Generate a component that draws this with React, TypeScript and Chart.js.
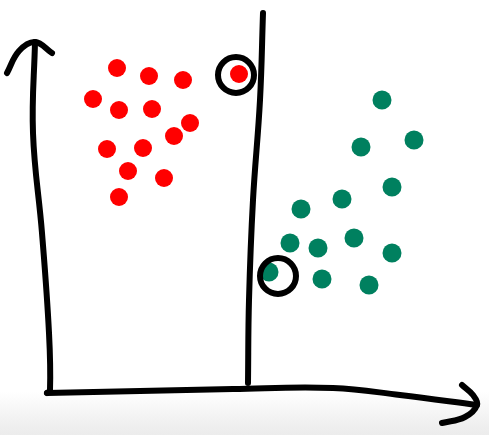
import React, { useEffect, useRef } from "react";
import Chart from "chart.js/auto";

// feature space (origin = corner of the drawn axes)
const redX = [7.0, 10.2, 13.6, 19.2, 4.6, 7.2, 10.5, 14.3, 12.7, 6.0, 9.6, 8.1, 11.7, 7.2];
const redY = [32.5, 31.7, 31.3, 31.9, 29.4, 28.3, 28.4, 27.0, 25.7, 24.4, 24.5, 22.2, 21.5, 19.6];
const greenX = [33.5, 31.4, 36.7, 34.5, 25.4, 29.5, 24.3, 27.1, 30.7, 34.5, 22.2, 27.5, 32.2];
const greenY = [29.3, 24.6, 25.3, 20.6, 18.4, 19.4, 15.0, 14.5, 15.5, 14.0, 12.1, 11.4, 10.8];

// circled support vectors
const supportX = [18.9, 23.1];
const supportY = [31.8, 11.7];

// hand-drawn decision boundary
const boundaryX = [21.6, 21.3, 20.6, 20.2, 20.1];
const boundaryY = [38.0, 29.3, 19.3, 9.3, 1.0];

// hand-drawn axes with arrow heads
const yAxisX = [0, 0.3, 0.2, -0.5, -1.4, -1.2];
const yAxisY = [0, 0.3, 6.0, 16.0, 26.0, 35.1];
const yArrowX = [-4.0, -2.8, -1.2, 0.5];
const yArrowY = [32.0, 34.2, 35.1, 34.0];
const xAxisX = [0, 18.6, 28.6, 35.3, 43.0];
const xAxisY = [0, 0.4, 0.5, -0.2, -1.2];
const xArrowX = [41.5, 42.6, 43.0, 41.8, 39.5];
const xArrowY = [0.8, -0.2, -1.2, -2.4, -3.0];

const toPoints = (xs: number[], ys: number[]) => xs.map((x, i) => ({ x, y: ys[i] }));

const ink = "#000000";

const stroke = (xs: number[], ys: number[], tension = 0.4) => ({
  type: "line" as const,
  data: toPoints(xs, ys),
  borderColor: ink,
  borderWidth: 6,
  borderCapStyle: "round" as const,
  borderJoinStyle: "round" as const,
  pointRadius: 0,
  tension,
  fill: false,
  clip: false as any,
  order: 3,
});

const App = () => {
  const chartRef = useRef<HTMLCanvasElement>(null);
  const chartInstance = useRef<any>(null);

  useEffect(() => {
    document.body.style.margin = "0";
    if (!chartRef.current) return;
    if (chartInstance.current) chartInstance.current.destroy();

    chartInstance.current = new Chart(chartRef.current, {
      type: "scatter",
      data: {
        datasets: [
          stroke(yAxisX, yAxisY),
          stroke(yArrowX, yArrowY),
          stroke(xAxisX, xAxisY),
          stroke(xArrowX, xArrowY),
          stroke(boundaryX, boundaryY),
          {
            data: toPoints(redX, redY),
            backgroundColor: "#ff0000",
            borderWidth: 0,
            pointRadius: 9,
            order: 2,
          },
          {
            data: toPoints(greenX, greenY),
            backgroundColor: "#00805f",
            borderWidth: 0,
            pointRadius: 9.5,
            order: 2,
          },
          {
            data: toPoints(supportX, supportY),
            backgroundColor: "rgba(0,0,0,0)",
            borderColor: ink,
            borderWidth: 6,
            pointRadius: [18, 18],
            order: 1,
          },
        ],
      },
      options: {
        animation: false,
        responsive: true,
        maintainAspectRatio: false,
        layout: { padding: 0, autoPadding: false },
        plugins: { legend: { display: false }, tooltip: { enabled: false } },
        scales: {
          x: { type: "linear", display: false, min: -4.7, max: 44.2 },
          y: { type: "linear", display: false, min: -4.2, max: 39.3 },
        },
      },
    });

    return () => {
      if (chartInstance.current) {
        chartInstance.current.destroy();
        chartInstance.current = null;
      }
    };
  }, []);

  return (
    <div
      style={{
        position: "fixed",
        left: 0,
        top: 0,
        width: 489,
        height: 435,
        background: "linear-gradient(to bottom, #ffffff 0px, #ffffff 392px, #efefef 425px, #ececec 435px)",
      }}
    >
      <canvas ref={chartRef} />
    </div>
  );
};

export default App;
